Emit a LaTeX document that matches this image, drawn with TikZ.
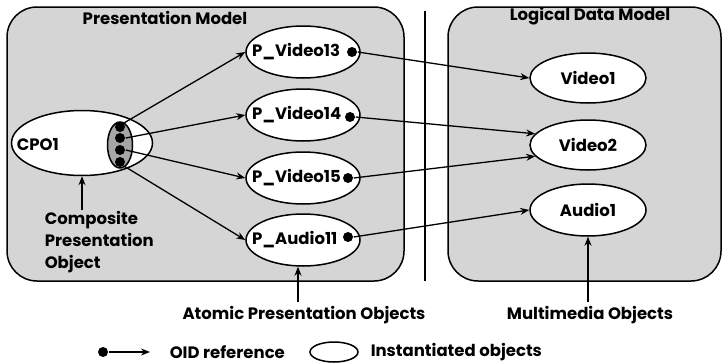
\documentclass[tikz,border=0pt]{standalone}
\usepackage{fontspec}
\setmainfont{Poppins}
\usetikzlibrary{arrows.meta,shapes.geometric}
\begin{document}
\begin{tikzpicture}[x=1pt,y=-1pt,
  line width=1.5pt,
  fnt/.style={font=\fontsize{16.5}{18}\selectfont\bfseries},
  txt/.style={fnt, inner sep=0pt},
  obj/.style={draw, fill=white, ellipse, minimum width=#1, minimum height=52pt, inner sep=0pt, fnt},
  obj/.default=114pt,
  plab/.style={txt, anchor=west, xshift=6pt},
  ref/.style={line width=1.3pt, -{Stealth[length=9pt,width=7pt]}},
  oid/.style={circle, fill=black, inner sep=0pt, minimum size=10pt},
  panel/.style={draw, fill=gray!33, rounded corners=30pt},
]
\useasboundingbox (0,0) rectangle (723,364);
% panels
\draw[panel] (7,7) rectangle (404,281);
\draw[panel] (448,7) rectangle (721,281);
\draw (425,11) -- (425,281);
\node[txt] (t1) at (165,18) {Presentation Model};
\node[txt] (t2) at (590,16) {Logical Data Model};
% CPO1
\node[draw, fill=white, ellipse, minimum width=141pt, minimum height=65pt, inner sep=0pt] (cpo) at (82,143) {};
\node[txt, anchor=west] (cpol) at (16,145) {CPO1};
\node[draw, fill=gray!70, ellipse, minimum width=25pt, minimum height=46pt, inner sep=0pt] (grp) at (120,145) {};
\node[oid] (d1) at (120,127) {};
\node[oid] (d2) at (120,138) {};
\node[oid] (d3) at (120,150) {};
\node[oid] (d4) at (120,162) {};
% presentation objects
\node[obj] (p13) at (303,52) {};
\node[obj] (p14) at (303,115) {};
\node[obj] (p15) at (303,178) {};
\node[obj] (pa) at (303,240) {};
\node[plab] (p13t) at (p13.west) {P\_Video13};
\node[plab] (p14t) at (p14.west) {P\_Video14};
\node[plab] (p15t) at (p15.west) {P\_Video15};
\node[plab] (pat) at (pa.west) {P\_Audio11};
\node[oid] (o13) at (352,52) {};
\node[oid] (o14) at (350,117) {};
\node[oid] (o15) at (348,178) {};
\node[oid] (oa) at (348,237) {};
% logical objects
\node[obj=116pt, minimum height=50pt] (v1) at (588,78) {Video1};
\node[obj=116pt, minimum height=50pt] (v2) at (588,145) {Video2};
\node[obj=116pt, minimum height=52pt] (a1) at (588,210) {Audio1};
% references
\draw[ref] (d1.north east) -- (p13.west);
\draw[ref] (d2.east) -- (p14.west);
\draw[ref] (d3.east) -- (p15.west);
\draw[ref] (d4.south east) -- (pa.west);
\draw[ref] (o13.east) -- (v1.west);
\draw[ref] (o14.east) -- (v2.168);
\draw[ref] (o15.east) -- (v2.192);
\draw[ref] (oa.east) -- (a1.west);
% annotations
\node[txt, align=left, anchor=north west, font=\fontsize{16.5}{22}\selectfont\bfseries] (cpt) at (44,211) {Composite\\Presentation\\Object};
\coordinate (cpa) at (82,210);
\draw[ref] (cpa) -- (cpo.south -| cpa);
\node[txt] (apo) at (304,315) {Atomic Presentation Objects};
\coordinate (apa) at (298,302);
\draw[ref] (apa) -- (pa.south -| apa);
\node[txt] (mmo) at (590,315) {Multimedia Objects};
\coordinate (mma) at (588,302);
\draw[ref] (mma) -- (a1.south);
% legend
\node[oid] (ld) at (103,352) {};
\coordinate (la) at (150,352);
\draw[ref] (ld) -- (la);
\node[txt, anchor=west] (lt1) at (169,352) {OID reference};
\node[draw, ellipse, minimum width=48pt, minimum height=20pt, inner sep=0pt] (le) at (334,352) {};
\node[txt, anchor=west] (lt2) at (370,352) {Instantiated objects};
\end{tikzpicture}
\end{document}
